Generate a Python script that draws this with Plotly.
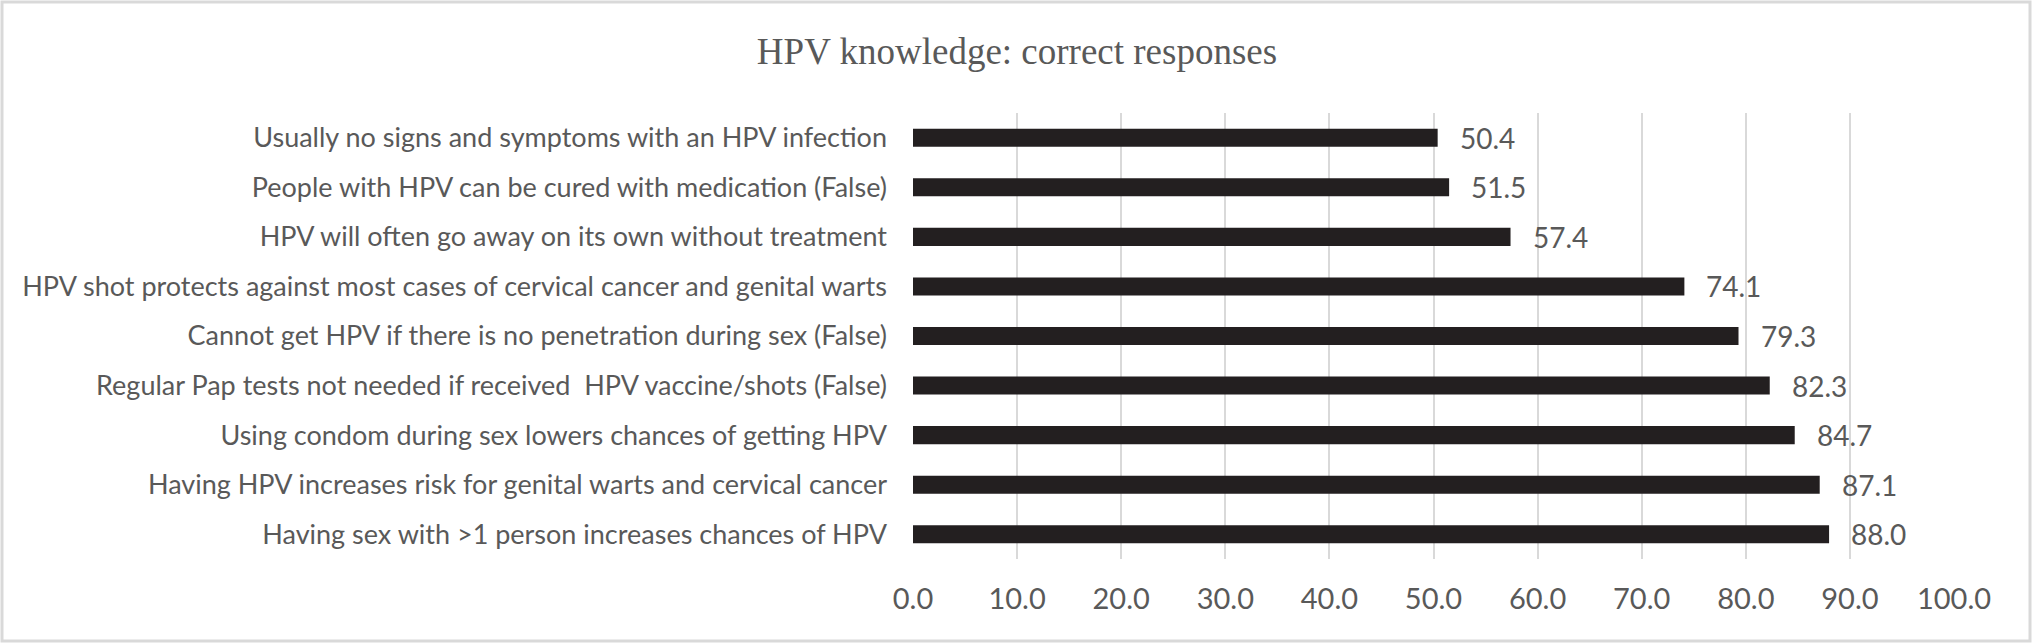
import plotly.graph_objects as go

# knowledge items, listed top to bottom as in the chart
items = [
    "Usually no signs and symptoms with an HPV infection",
    "People with HPV can be cured with medication (False)",
    "HPV will often go away on its own without treatment",
    "HPV shot protects against most cases of cervical cancer and genital warts",
    "Cannot get HPV if there is no penetration during sex (False)",
    "Regular Pap tests not needed if received  HPV vaccine/shots (False)",
    "Using condom during sex lowers chances of getting HPV",
    "Having HPV increases risk for genital warts and cervical cancer",
    "Having sex with >1 person increases chances of HPV",
]
pct_correct = [50.4, 51.5, 57.4, 74.1, 79.3, 82.3, 84.7, 87.1, 88.0]
x_ticks = [0, 10, 20, 30, 40, 50, 60, 70, 80, 90, 100]
x_ticktext = ["%.1f" % t for t in x_ticks]

W, H = 2034, 644
ml, mr, mt, mb = 913, 80, 113, 85
grey = "#595959"
font = "Lato, 'Open Sans', sans-serif"

fig = go.Figure()
fig.add_trace(go.Bar(
    x=pct_correct, y=items, orientation="h",
    marker=dict(color="#231F20", line=dict(width=0)),
    hoverinfo="x+y",
))

for v, it in zip(pct_correct, items):
    fig.add_annotation(x=v, y=it, text="%.1f" % v, showarrow=False,
                       xanchor="left", xshift=20,
                       font=dict(family=font, size=28, color=grey))

# light border round the whole chart
pw, ph = W - ml - mr, H - mt - mb
fig.add_shape(type="rect", xref="paper", yref="paper",
              x0=-(ml - 2) / pw, x1=1 + (mr - 4) / pw,
              y0=-(mb - 3) / ph, y1=1 + (mt - 2) / ph,
              line=dict(color="#D9D9D9", width=3), layer="below")

fig.update_layout(
    width=W, height=H,
    margin=dict(l=ml, r=mr, t=mt, b=mb),
    paper_bgcolor="white", plot_bgcolor="white",
    showlegend=False,
    bargap=0.636,
    title=dict(text="HPV knowledge: correct responses", x=0.5, xref="container",
               xanchor="center", y=1 - 51 / H, yanchor="middle",
               font=dict(family="'Liberation Serif', 'Times New Roman', serif",
                         size=37, color=grey)),
)
fig.update_xaxes(range=[0, 100], tickvals=x_ticks, ticktext=x_ticktext,
                 showgrid=True, gridcolor="#D9D9D9", gridwidth=2,
                 zeroline=False, showline=False, ticks="",
                 ticklabelstandoff=20,
                 tickfont=dict(family=font, size=29, color=grey))
fig.update_yaxes(autorange="reversed", showgrid=False, zeroline=False,
                 showline=False, ticks="", ticklabelstandoff=25,
                 tickfont=dict(family=font, size=27, color=grey))

fig.write_html("out.html", config={"displayModeBar": False},
               post_script="document.body.style.margin='0';")
